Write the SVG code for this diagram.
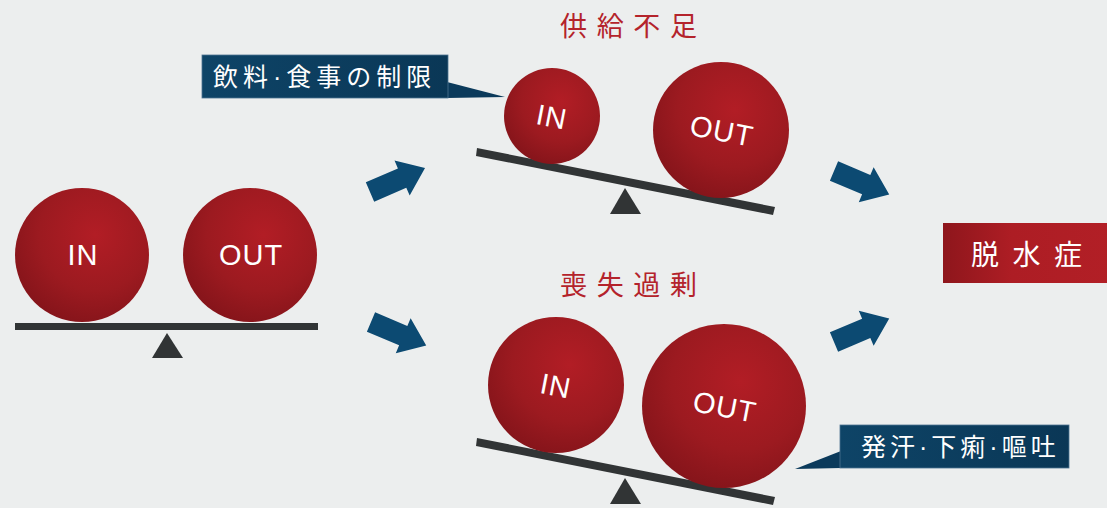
<svg xmlns="http://www.w3.org/2000/svg" width="1107" height="508" viewBox="0 0 1107 508">
  <defs>
    <radialGradient id="ball" cx="0.6" cy="0.35" r="0.7">
      <stop offset="0" stop-color="#b21d25"/>
      <stop offset="0.6" stop-color="#9c1a20"/>
      <stop offset="1" stop-color="#84141a"/>
    </radialGradient>
    <linearGradient id="navy" x1="0" y1="0" x2="1" y2="0">
      <stop offset="0" stop-color="#0e4467"/>
      <stop offset="1" stop-color="#0a3756"/>
    </linearGradient>
    <linearGradient id="redbox" x1="0" y1="0" x2="1" y2="0">
      <stop offset="0" stop-color="#8e161c"/>
      <stop offset="0.4" stop-color="#ad1d24"/>
      <stop offset="1" stop-color="#b21f26"/>
    </linearGradient>
    <path id="arrow" d="M0,-10.5 L35,-10.5 L35,-19 L60,0 L35,19 L35,10.5 L0,10.5 Z"/>
    <style>
      .ball { fill: url(#ball); }
      .beam { fill: #313435; }
      .lbl { font-family: "Liberation Sans", Arial, sans-serif; font-size: 29px; fill: #ffffff; text-anchor: middle; letter-spacing: 1px; }
      .title { font-family: "Noto Sans CJK JP", sans-serif; font-size: 27px; fill: #b4232b; }
      .tag { font-family: "Liberation Sans", "Noto Sans CJK JP", sans-serif; font-size: 25px; fill: #ffffff; }
      .callout { fill: url(#navy); stroke: #4d7391; stroke-width: 0.8; }
      .arw { fill: #0c4a72; }
    </style>
  </defs>

  <rect width="1107" height="508" fill="#eceeee"/>

  <!-- balanced scale -->
  <g id="balance-even">
    <rect class="beam" x="15" y="323" width="303" height="7"/>
    <polygon class="beam" points="167,333 152,358 183,358"/>
    <circle class="ball" cx="82" cy="255" r="67"/>
    <circle class="ball" cx="250" cy="255" r="67"/>
    <text class="lbl" x="83" y="265">IN</text>
    <text class="lbl" x="251" y="265">OUT</text>
  </g>

  <!-- supply shortage -->
  <g id="balance-shortage">
    <text class="title" x="560" y="36" textLength="137" lengthAdjust="spacing">供給不足</text>
    <polygon class="beam" points="477,148 775,207 773,215 476,156"/>
    <polygon class="beam" points="625,188 610,214 641,214"/>
    <circle class="ball" cx="552" cy="116" r="48"/>
    <circle class="ball" cx="721" cy="130" r="68"/>
    <text class="lbl" x="552" y="127" transform="rotate(11 552 116)">IN</text>
    <text class="lbl" x="722" y="141" transform="rotate(11 722 130)">OUT</text>
  </g>

  <!-- excessive loss -->
  <g id="balance-loss">
    <text class="title" x="560" y="295" textLength="137" lengthAdjust="spacing">喪失過剰</text>
    <polygon class="beam" points="477,438 775,497 773,505 476,446"/>
    <polygon class="beam" points="625,478 610,504 641,504"/>
    <circle class="ball" cx="556" cy="385" r="68"/>
    <circle class="ball" cx="724" cy="406" r="82"/>
    <text class="lbl" x="556" y="396" transform="rotate(11 556 385)">IN</text>
    <text class="lbl" x="725" y="417" transform="rotate(11 725 406)">OUT</text>
  </g>

  <!-- callouts -->
  <g id="callout-intake">
    <polygon fill="#0b3a5b" points="447,82 505,97 447,98"/>
    <rect class="callout" x="202" y="55" width="246" height="43"/>
    <text class="tag" x="213" y="86" letter-spacing="5">飲料·食事の制限</text>
  </g>

  <g id="callout-loss">
    <polygon fill="#0b3a5b" points="841,451 841,468 795,469"/>
    <rect class="callout" x="840" y="425" width="229" height="43"/>
    <text class="tag" x="861" y="456" letter-spacing="4">発汗·下痢·嘔吐</text>
  </g>

  <g id="result">
    <rect x="943" y="223" width="170" height="60" fill="url(#redbox)"/>
    <text x="971" y="265" font-family="Noto Sans CJK JP, sans-serif" font-size="28" fill="#ffffff" textLength="111" lengthAdjust="spacing">脱水症</text>
  </g>

  <!-- connectors -->
  <g id="connectors">
    <use href="#arrow" class="arw" transform="translate(370,192) rotate(-23.5)"/>
    <use href="#arrow" class="arw" transform="translate(371,322) rotate(23)"/>
    <use href="#arrow" class="arw" transform="translate(834,171) rotate(23)"/>
    <use href="#arrow" class="arw" transform="translate(834,342) rotate(-23)"/>
  </g>
</svg>
